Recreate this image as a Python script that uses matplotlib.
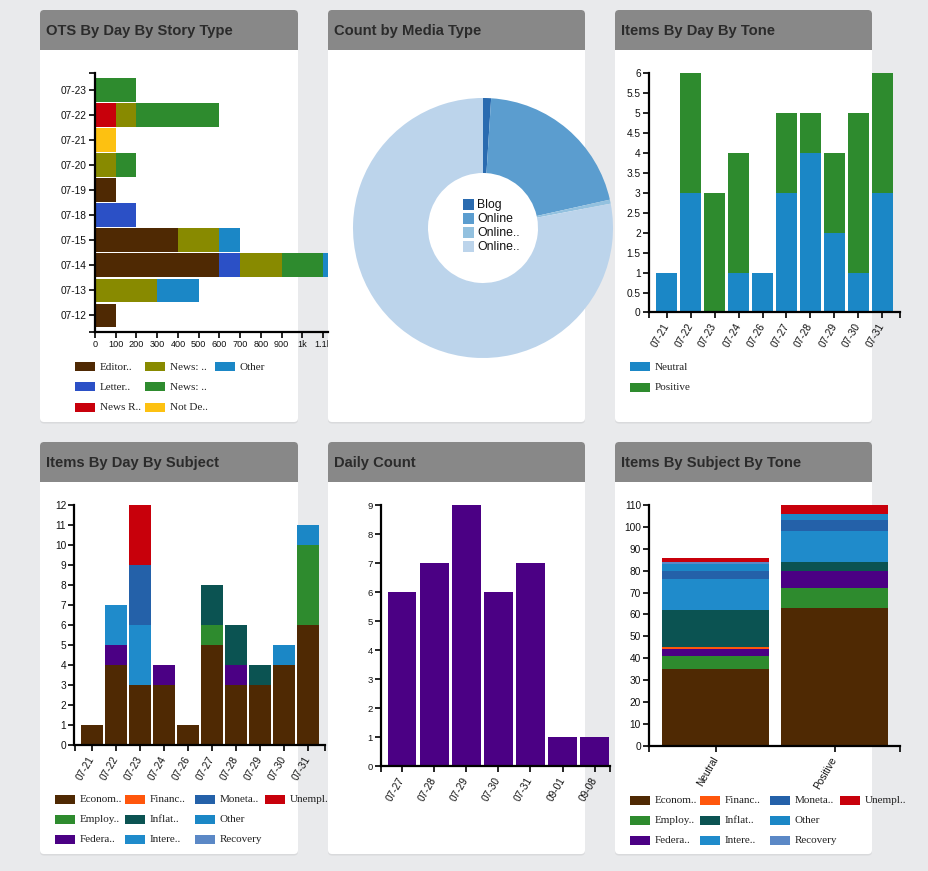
import matplotlib
matplotlib.use('Agg')
import matplotlib.pyplot as plt
from matplotlib.patches import FancyBboxPatch, Rectangle
from matplotlib.transforms import Bbox
from matplotlib.ticker import FormatStrFormatter

W, H = 929, 871

# ---- data -------------------------------------------------------------
ots_days = ['07-12', '07-13', '07-14', '07-15', '07-18', '07-19',
            '07-20', '07-21', '07-22', '07-23']
ots_types = ['Editor..', 'Letter..', 'News R..', 'News: ..', 'News: ..',
             'Not De..', 'Other']
ots_editor = [100, 0, 600, 400, 0, 100, 0, 0, 0, 0]
ots_letter = [0, 0, 100, 0, 200, 0, 0, 0, 0, 0]
ots_news_r = [0, 0, 0, 0, 0, 0, 0, 0, 100, 0]
ots_news_a = [0, 300, 200, 200, 0, 0, 100, 0, 100, 0]
ots_news_b = [0, 0, 200, 0, 0, 0, 100, 0, 400, 200]
ots_not_de = [0, 0, 0, 0, 0, 0, 0, 100, 0, 0]
ots_other = [0, 200, 100, 100, 0, 0, 0, 0, 0, 0]
ots_xticks = [0, 100, 200, 300, 400, 500, 600, 700, 800, 900, 1000, 1100]
ots_xlabels = ['0', '100', '200', '300', '400', '500', '600', '700', '800',
               '900', '1k', '1.1k']

media_labels = ['Blog', 'Online', 'Online..', 'Online..']
media_counts = [2, 41, 1, 156]

tone_days = ['07-21', '07-22', '07-23', '07-24', '07-26', '07-27', '07-28',
             '07-29', '07-30', '07-31']
tone_names = ['Neutral', 'Positive']
tone_neutral = [1, 3, 0, 1, 1, 3, 4, 2, 1, 3]
tone_positive = [0, 3, 3, 3, 0, 2, 1, 2, 4, 3]

subjects = ['Econom..', 'Employ..', 'Federa..', 'Financ..', 'Inflat..',
            'Intere..', 'Moneta..', 'Other', 'Recovery', 'Unempl..']
subj_days = tone_days
day_econom = [1, 4, 3, 3, 1, 5, 3, 3, 4, 6]
day_employ = [0, 0, 0, 0, 0, 1, 0, 0, 0, 4]
day_federa = [0, 1, 0, 1, 0, 0, 1, 0, 0, 0]
day_financ = [0, 0, 0, 0, 0, 0, 0, 0, 0, 0]
day_inflat = [0, 0, 0, 0, 0, 2, 2, 1, 0, 0]
day_intere = [0, 2, 3, 0, 0, 0, 0, 0, 0, 0]
day_moneta = [0, 0, 3, 0, 0, 0, 0, 0, 0, 0]
day_other = [0, 0, 0, 0, 0, 0, 0, 0, 1, 1]
day_recovery = [0, 0, 0, 0, 0, 0, 0, 0, 0, 0]
day_unempl = [0, 0, 3, 0, 0, 0, 0, 0, 0, 0]

daily_days = ['07-27', '07-28', '07-29', '07-30', '07-31', '09-01', '09-08']
daily_counts = [6, 7, 9, 6, 7, 1, 1]

tone_econom = [35, 63]
tone_employ = [6, 9]
tone_federa = [3, 8]
tone_financ = [1, 0]
tone_inflat = [17, 4]
tone_intere = [14, 14]
tone_moneta = [4, 5]
tone_other = [3, 3]
tone_recovery = [1, 0]
tone_unempl = [2, 4]

# ---- colours ------------------------------------------------------------
BROWN, GREEN, BLUE = '#4f2903', '#2e8b2e', '#1b87c6'
ots_colors = [BROWN, '#2b50c6', '#c8000b', '#888a00', GREEN, '#fdc111', BLUE]
media_colors = ['#2a6bb0', '#5b9dcf', '#93c1df', '#bcd4eb']
tone_colors = [BLUE, GREEN]
subj_colors = [BROWN, GREEN, '#4b0084', '#ff560c', '#0b5352', '#1f8bcb',
               '#2461a9', BLUE, '#5b88c6', '#c8000b']

BG, HEAD = '#e9eaec', '#888888'
SANS, SERIF = 'Liberation Sans', 'Liberation Serif'

fig = plt.figure(figsize=(W / 100, H / 100), dpi=100)
fig.patch.set_facecolor(BG)


def px_axes(x0, y0, x1, y1, z=1):
    ax = fig.add_axes([x0 / W, 1 - y1 / H, (x1 - x0) / W, (y1 - y0) / H], zorder=z)
    ax.patch.set_visible(False)
    return ax


def overlay(z):
    ax = px_axes(0, 0, W, H, z)
    ax.set_xlim(0, W)
    ax.set_ylim(H, 0)
    ax.axis('off')
    return ax


bg = overlay(-1)
top = overlay(10)

# cards
cards = [('OTS By Day By Story Type', 40, 298, 10, 422),
         ('Count by Media Type', 328, 585, 10, 422),
         ('Items By Day By Tone', 615, 872, 10, 422),
         ('Items By Day By Subject', 40, 298, 442, 854),
         ('Daily Count', 328, 585, 442, 854),
         ('Items By Subject By Tone', 615, 872, 442, 854)]
for title, x0, x1, y0, y1 in cards:
    bg.add_patch(FancyBboxPatch((x0, y0 + 1.5), x1 - x0, y1 - y0,
                                boxstyle='round,pad=0,rounding_size=4',
                                fc='#d9dadc', ec='none'))
    bg.add_patch(FancyBboxPatch((x0, y0), x1 - x0, y1 - y0,
                                boxstyle='round,pad=0,rounding_size=4',
                                fc='white', ec='none'))
    bg.add_patch(FancyBboxPatch((x0, y0), x1 - x0, 40,
                                boxstyle='round,pad=0,rounding_size=4',
                                fc=HEAD, ec='none'))
    bg.add_patch(Rectangle((x0, y0 + 20), x1 - x0, 20, fc=HEAD, ec='none'))
    bg.text(x0 + 6, y0 + 20.5, title, family=SANS, weight='bold',
            fontsize=10.6, color='#2b2b2b', va='center', ha='left')


def d3_axes(ax):
    for s in ['top', 'right']:
        ax.spines[s].set_visible(False)
    for s in ['left', 'bottom']:
        ax.spines[s].set_linewidth(1.6)
        ax.spines[s].set_color('black')
    ax.tick_params(which='both', direction='out', length=4.5, width=1.2,
                   color='black', labelsize=7.3, pad=1.5, labelcolor='#111')
    for lbl in ax.get_xticklabels() + ax.get_yticklabels():
        lbl.set_family(SANS)


def rot_labels(ax, labels):
    ax.set_xticklabels(labels, rotation=60, ha='right', va='center',
                       rotation_mode='anchor', family=SANS, fontsize=7.3)
    ax.tick_params(axis='x', pad=4)


def legend(names, colors, x0, y0, nrows, col_w=70, row_h=20, clip_x=None):
    for i, (name, c) in enumerate(zip(names, colors)):
        x = x0 + (i // nrows) * col_w
        y = y0 + (i % nrows) * row_h
        top.add_patch(Rectangle((x, y - 4.5), 20, 9, fc=c, ec='none'))
        t = top.text(x + 25, y, name, family=SERIF, fontsize=8, color='#222',
                     va='center', ha='left')
        if clip_x is not None:
            t.set_clip_box(Bbox([[0, 0], [clip_x, H]]))
            t.set_clip_on(True)


def stacked(ax, pos, series, colors, width, horizontal=False):
    base = [0] * len(pos)
    for vals, c in zip(series, colors):
        if horizontal:
            ax.barh(pos, vals, height=width, left=base, color=c, lw=0)
        else:
            ax.bar(pos, vals, width=width, bottom=base, color=c, lw=0)
        base = [b + v for b, v in zip(base, vals)]


# ---- 1: OTS by day by story type ---------------------------------------
ax1 = px_axes(95, 73, 328, 332)
ypos = list(range(len(ots_days)))
stacked(ax1, ypos, [ots_editor, ots_letter, ots_news_r, ots_news_a,
                    ots_news_b, ots_not_de, ots_other], ots_colors, 0.95, True)
ax1.set_xlim(0, 1123)
ax1.set_ylim(-0.66, 9.68)
ax1.set_yticks(ypos)
ax1.set_yticklabels(ots_days)
ax1.set_yticks([-0.66, 9.68], minor=True)
ax1.set_xticks(ots_xticks)
ax1.set_xticklabels(ots_xlabels)
d3_axes(ax1)
ax1.tick_params(axis='x', labelsize=6.6)
for lbl in ax1.get_xticklabels():
    lbl.set_clip_box(Bbox([[0, 0], [328, H]]))
    lbl.set_clip_on(True)
legend(ots_types, ots_colors, 75, 367, 3)

# ---- 2: count by media type --------------------------------------------
ax2 = px_axes(353, 98, 613, 358)
ax2.pie(media_counts, colors=media_colors, startangle=90, counterclock=False,
        radius=1, wedgeprops=dict(width=75 / 130, lw=0))
ax2.set_xlim(-1, 1)
ax2.set_ylim(-1, 1)
for i, (name, c) in enumerate(zip(media_labels, media_colors)):
    y = 204.5 + i * 14
    top.add_patch(Rectangle((463, y - 5.3), 10.6, 10.6, fc=c, ec='none'))
    top.text(477.5, y, name, family=SANS, fontsize=8.8, color='#111',
             va='center', ha='left')

# ---- 3: items by day by tone -------------------------------------------
ax3 = px_axes(649, 73.3, 900, 312.5)
xpos = list(range(len(tone_days)))
stacked(ax3, xpos, [tone_neutral, tone_positive], tone_colors, 0.91)
ax3.set_xlim(-0.73, 9.73)
ax3.set_ylim(0, 6)
ax3.set_yticks([i * 0.5 for i in range(13)])
ax3.yaxis.set_major_formatter(FormatStrFormatter('%g'))
ax3.set_xticks(xpos)
ax3.set_xticks([-0.73, 9.73], minor=True)
d3_axes(ax3)
rot_labels(ax3, tone_days)
legend(tone_names, tone_colors, 630, 367, 2, row_h=20.5)

# ---- 4: items by day by subject ----------------------------------------
ax4 = px_axes(74.5, 505, 325, 745)
stacked(ax4, xpos, [day_econom, day_employ, day_federa, day_financ,
                    day_inflat, day_intere, day_moneta, day_other,
                    day_recovery, day_unempl], subj_colors, 0.91)
ax4.set_xlim(-0.73, 9.71)
ax4.set_ylim(0, 12)
ax4.set_yticks(range(13))
ax4.set_xticks(xpos)
ax4.set_xticks([-0.73, 9.71], minor=True)
d3_axes(ax4)
rot_labels(ax4, subj_days)
legend(subjects, subj_colors, 55, 799.5, 3, clip_x=328)

# ---- 5: daily count ------------------------------------------------------
ax5 = px_axes(381, 505, 610, 766)
dpos = list(range(len(daily_days)))
ax5.bar(dpos, daily_counts, width=0.89, color='#4b0084', lw=0)
ax5.set_xlim(-0.66, 6.48)
ax5.set_ylim(0, 9)
ax5.set_yticks(range(10))
ax5.set_xticks(dpos)
ax5.set_xticks([-0.66, 6.48], minor=True)
d3_axes(ax5)
ax5.tick_params(axis='y', labelsize=6.8)
rot_labels(ax5, daily_days)

# ---- 6: items by subject by tone -----------------------------------------
ax6 = px_axes(649.3, 505, 900, 745.7)
tpos = list(range(len(tone_names)))
stacked(ax6, tpos, [tone_econom, tone_employ, tone_federa, tone_financ,
                    tone_inflat, tone_intere, tone_moneta, tone_other,
                    tone_recovery, tone_unempl], subj_colors, 0.9)
ax6.set_xlim(-0.56, 1.55)
ax6.set_ylim(0, 110)
ax6.set_yticks(range(0, 111, 10))
ax6.set_xticks(tpos)
ax6.set_xticks([-0.56, 1.55], minor=True)
d3_axes(ax6)
rot_labels(ax6, tone_names)
legend(subjects, subj_colors, 630, 800, 3)

fig.savefig('out.png', dpi=100, facecolor=BG)
